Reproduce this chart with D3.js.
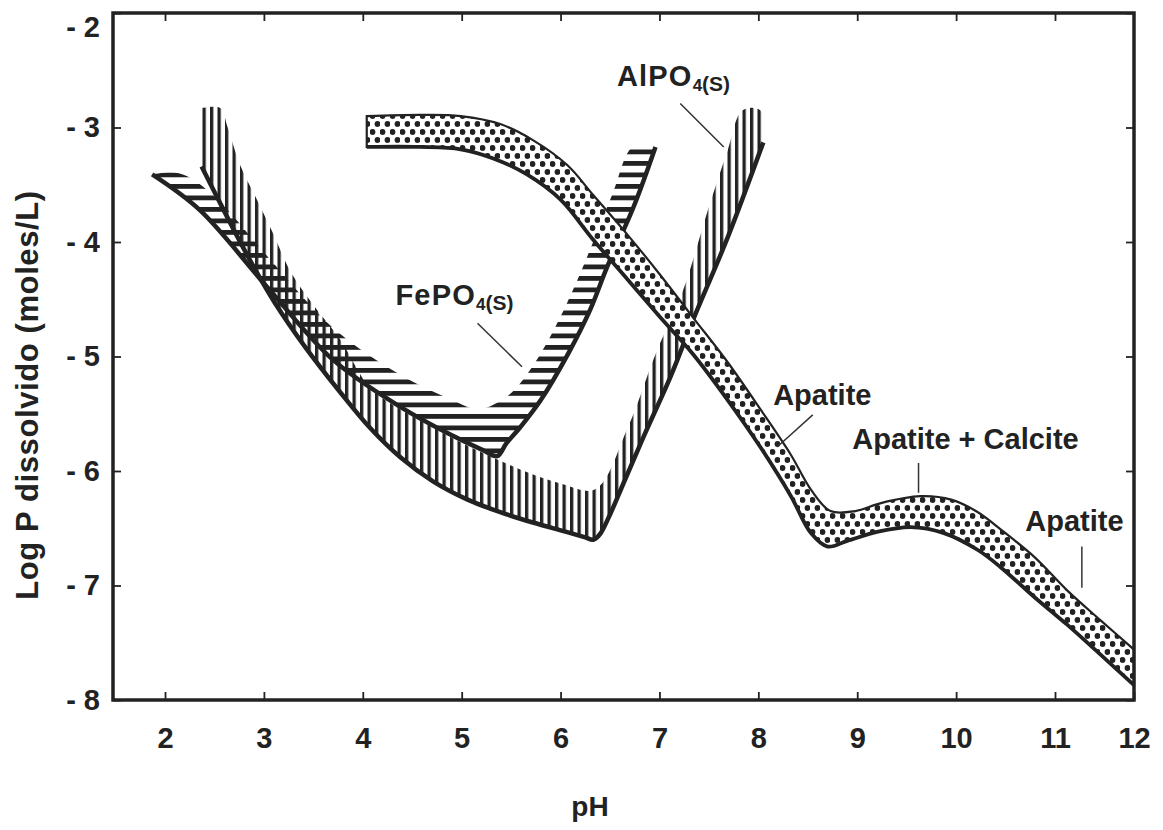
<!DOCTYPE html>
<html>
<head>
<meta charset="utf-8">
<script src="https://cdn.jsdelivr.net/npm/d3@7"></script>
<style>
  body { margin: 0; background: #fff; }
  text { font-family: "Liberation Sans", Arial, sans-serif; font-weight: bold; fill: #222; }
</style>
</head>
<body>
<svg id="chart"></svg>
<script>
// axis ticks
const pHTicks = [2, 3, 4, 5, 6, 7, 8, 9, 10, 11, 12];
const logTicks = [-2, -3, -4, -5, -6, -7, -8];

// FePO4(s) band: [pH, log P]
const fePO4Lower = [[1.87, -3.41], [2.35, -3.72], [3.03, -4.39], [3.70, -5.03], [4.38, -5.44], [4.88, -5.68],
  [5.22, -5.82], [5.36, -5.87], [5.45, -5.76], [5.59, -5.62], [5.80, -5.38], [6.08, -4.97], [6.30, -4.59],
  [6.47, -4.22], [6.74, -3.69], [6.96, -3.17]];
const fePO4Upper = [[1.87, -3.41], [2.14, -3.40], [2.46, -3.57], [3.03, -4.12], [3.70, -4.75], [4.38, -5.16],
  [4.88, -5.37], [5.17, -5.46], [5.47, -5.34], [5.69, -5.12], [5.93, -4.77], [6.13, -4.41], [6.33, -4.00],
  [6.53, -3.57], [6.73, -3.17], [6.96, -3.17]];

// AlPO4(s) band
const alPO4Lower = [[2.37, -3.34], [2.61, -3.75], [2.86, -4.16], [3.11, -4.53], [3.42, -4.92], [3.77, -5.31],
  [4.07, -5.62], [4.38, -5.88], [4.71, -6.09], [5.06, -6.25], [5.39, -6.36], [5.72, -6.45], [6.05, -6.53],
  [6.25, -6.58], [6.33, -6.60], [6.40, -6.55], [6.50, -6.38], [6.63, -6.12], [6.84, -5.70], [7.11, -5.18],
  [7.34, -4.68], [7.69, -3.96], [8.05, -3.13]];
const alPO4Upper = [[2.37, -2.83], [2.56, -2.83], [2.63, -2.99], [2.76, -3.33], [2.93, -3.63], [3.09, -3.92],
  [3.27, -4.26], [3.50, -4.55], [3.77, -4.85], [4.07, -5.27], [4.38, -5.46], [4.71, -5.62], [5.06, -5.78],
  [5.36, -5.90], [5.69, -6.02], [6.00, -6.11], [6.35, -6.16], [6.68, -5.62], [6.96, -4.98], [7.24, -4.42],
  [7.49, -3.72], [7.69, -3.20], [7.84, -2.85], [8.02, -2.85], [8.05, -3.13]];

// Apatite (and apatite + calcite) band
const apatiteTop = [[4.04, -2.90], [4.58, -2.89], [4.99, -2.90], [5.39, -2.97], [5.72, -3.11], [6.07, -3.33],
  [6.33, -3.59], [6.68, -3.94], [7.01, -4.29], [7.34, -4.66], [7.69, -5.05], [8.02, -5.46], [8.33, -5.86],
  [8.53, -6.16], [8.73, -6.35], [8.98, -6.35], [9.24, -6.28], [9.64, -6.22], [9.95, -6.25], [10.22, -6.36],
  [10.45, -6.51], [10.79, -6.75], [11.15, -7.04], [11.57, -7.30], [12.0, -7.56]];
const apatiteBottom = [[4.04, -3.17], [4.58, -3.17], [4.99, -3.19], [5.32, -3.27], [5.66, -3.41], [6.00, -3.63],
  [6.33, -3.98], [6.68, -4.33], [7.01, -4.66], [7.34, -4.98], [7.69, -5.38], [8.02, -5.79], [8.33, -6.22],
  [8.53, -6.54], [8.70, -6.66], [8.90, -6.61], [9.21, -6.53], [9.54, -6.49], [9.87, -6.54], [10.22, -6.69],
  [10.45, -6.84], [10.79, -7.10], [11.15, -7.34], [11.57, -7.60], [12.0, -7.87]];

const W = 1163, H = 830;
const svg = d3.select('#chart').attr('width', W).attr('height', H);

// the original axis squeezes the last unit (11-12)
const x = d3.scaleLinear().domain([1.474, 11, 12]).range([113, 1055, 1134]);
const y = d3.scaleLinear().domain([-8, -2]).range([700, 13]);

const ink = '#222';

// patterns
const defs = svg.append('defs');
const hpat = defs.append('pattern').attr('id', 'hatchH').attr('patternUnits', 'userSpaceOnUse')
  .attr('width', 10).attr('height', 11.5);
hpat.append('rect').attr('x', 0).attr('y', 0).attr('width', 10).attr('height', 4.8).attr('fill', ink);

const vpat = defs.append('pattern').attr('id', 'hatchV').attr('patternUnits', 'userSpaceOnUse')
  .attr('width', 7.5).attr('height', 10);
vpat.append('rect').attr('x', 0).attr('y', 0).attr('width', 3.3).attr('height', 10).attr('fill', ink);

const dpat = defs.append('pattern').attr('id', 'dots').attr('patternUnits', 'userSpaceOnUse')
  .attr('width', 10).attr('height', 16);
dpat.append('rect').attr('width', 10).attr('height', 16).attr('fill', '#fff');
dpat.append('circle').attr('cx', 2.5).attr('cy', 4).attr('r', 2.9).attr('fill', ink);
dpat.append('circle').attr('cx', 7.5).attr('cy', 12).attr('r', 2.9).attr('fill', ink);

const line = d3.line()
  .x(d => x(d[0]))
  .y(d => y(d[1]))
  .curve(d3.curveCatmullRom.alpha(0.5));

function bandPath(upper, lower) {
  const top = line(upper);
  const bot = line(lower.slice().reverse());
  return top + 'L' + bot.slice(1) + 'Z';
}

const plot = svg.append('g');

// AlPO4 (vertical hatching)
plot.append('path').attr('d', bandPath(alPO4Upper, alPO4Lower)).attr('fill', 'url(#hatchV)');
// FePO4 (horizontal hatching)
plot.append('path').attr('d', bandPath(fePO4Upper, fePO4Lower)).attr('fill', 'url(#hatchH)');

plot.append('path').attr('d', line(alPO4Lower))
  .attr('fill', 'none').attr('stroke', ink).attr('stroke-width', 4.5).attr('stroke-linejoin', 'round');
plot.append('path').attr('d', line(fePO4Lower))
  .attr('fill', 'none').attr('stroke', ink).attr('stroke-width', 4.5).attr('stroke-linejoin', 'round');

// apatite band on top
plot.append('path').attr('d', bandPath(apatiteTop, apatiteBottom))
  .attr('fill', 'url(#dots)').attr('stroke', ink).attr('stroke-width', 2.2);
plot.append('path').attr('d', line(apatiteBottom))
  .attr('fill', 'none').attr('stroke', ink).attr('stroke-width', 3.8);

// axes
function styleAxis(g) {
  g.select('.domain').remove();
  g.selectAll('.tick line').attr('stroke', ink).attr('stroke-width', 1.8);
  g.selectAll('text').attr('font-size', 29).style('font-family', '"Liberation Sans", Arial, sans-serif')
    .style('font-weight', 'bold').attr('fill', ink);
}

svg.append('g').attr('transform', 'translate(0,700)')
  .call(d3.axisBottom(x).tickValues(pHTicks).tickSizeInner(-8).tickSizeOuter(0).tickPadding(27))
  .call(styleAxis);
svg.append('g').attr('transform', 'translate(0,13)')
  .call(d3.axisTop(x).tickValues(pHTicks.slice(0, -1)).tickSizeInner(-8).tickSizeOuter(0).tickFormat(''))
  .call(styleAxis);
const yAxis = svg.append('g').attr('transform', 'translate(113,0)')
  .call(d3.axisLeft(y).tickValues(logTicks).tickSizeInner(-8).tickSizeOuter(0).tickPadding(13)
    .tickFormat(d => '- ' + Math.abs(d)))
  .call(styleAxis);
yAxis.selectAll('.tick').filter(d => d === -2).select('text').attr('dy', '0.8em');
svg.append('g').attr('transform', 'translate(1134,0)')
  .call(d3.axisRight(y).tickValues(logTicks).tickSizeInner(-8).tickSizeOuter(0).tickFormat(''))
  .call(styleAxis);

// frame
svg.append('rect').attr('x', 113).attr('y', 13).attr('width', 1134 - 113).attr('height', 700 - 13)
  .attr('fill', 'none').attr('stroke', ink).attr('stroke-width', 3.5);

// axis titles
svg.append('text').attr('x', 590).attr('y', 816).attr('text-anchor', 'middle')
  .attr('font-size', 28).text('pH');
svg.append('text').attr('transform', 'translate(38,395) rotate(-90)').attr('text-anchor', 'middle')
  .attr('font-size', 31).attr('letter-spacing', 0.6).text('Log P dissolvido (moles/L)');

// labels with leader lines
const notes = [
  { text: 'AlPO', sub: '4', tail: '(S)', at: [6.57, -2.64], leader: [[7.21, -2.79], [7.65, -3.17]] },
  { text: 'FePO', sub: '4', tail: '(S)', at: [4.33, -4.55], leader: [[5.16, -4.71], [5.61, -5.09]] },
  { text: 'Apatite', at: [8.15, -5.42], leader: [[8.55, -5.51], [8.19, -5.79]] },
  { text: 'Apatite + Calcite', at: [8.95, -5.81], leader: [[9.62, -5.93], [9.62, -6.19]] },
  { text: 'Apatite', at: [10.70, -6.52], leader: [[11.34, -6.66], [11.34, -7.02]] }
];

const ng = svg.append('g');
notes.forEach(n => {
  ng.append('line')
    .attr('x1', x(n.leader[0][0])).attr('y1', y(n.leader[0][1]))
    .attr('x2', x(n.leader[1][0])).attr('y2', y(n.leader[1][1]))
    .attr('stroke', '#333').attr('stroke-width', 1.5);
  const t = ng.append('text').attr('x', x(n.at[0])).attr('y', y(n.at[1])).attr('font-size', 29);
  if (n.sub) {
    t.attr('letter-spacing', 1.2);
    t.append('tspan').text(n.text);
    t.append('tspan').attr('font-size', 17).attr('dy', 5).attr('letter-spacing', 0).text(n.sub);
    t.append('tspan').attr('font-size', 21).attr('dy', 0).attr('letter-spacing', 0).text(n.tail);
  } else {
    t.text(n.text);
  }
});
</script>
</body>
</html>
